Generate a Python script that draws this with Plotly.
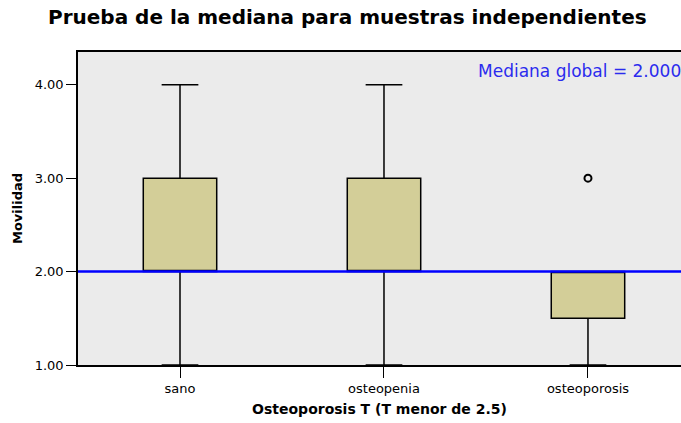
import plotly.graph_objects as go

# datos
grupos = ["sano", "osteopenia", "osteoporosis"]
q1 = [2.0, 2.0, 1.5]
mediana = [2.0, 2.0, 2.0]
q3 = [3.0, 3.0, 2.0]
bigote_inf = [1.0, 1.0, 1.0]
bigote_sup = [4.0, 4.0, 2.0]
atipicos_x = ["osteoporosis"]
atipicos_y = [3.0]
mediana_global = 2.0
ticks_y = [1.0, 2.0, 3.0, 4.0]

fig = go.Figure()
fig.add_trace(go.Box(
    x=grupos, q1=q1, median=mediana, q3=q3,
    lowerfence=bigote_inf, upperfence=bigote_sup,
    fillcolor="#D3CE98", line=dict(color="black", width=1.5),
    width=0.36, whiskerwidth=0.5, boxpoints=False, showlegend=False,
))
fig.add_trace(go.Scatter(
    x=atipicos_x, y=atipicos_y, mode="markers", showlegend=False,
    marker=dict(symbol="circle-open", size=7, color="black", line=dict(width=2)),
))
fig.add_hline(y=mediana_global, line=dict(color="#0000FF", width=2.5))
fig.add_annotation(
    x=0.66, y=4.15, xref="paper", yref="y", xanchor="left", yanchor="middle",
    text="Mediana global = %.3f" % mediana_global, showarrow=False,
    font=dict(color="#2B2BEE", size=17),
)

fig.update_layout(
    width=681, height=423, margin=dict(l=78, r=0, t=52, b=58),
    paper_bgcolor="white", plot_bgcolor="#EBEBEB",
    font=dict(family="DejaVu Sans, Arial, sans-serif", color="black", size=13),
    title=dict(text="<b>Prueba de la mediana para muestras independientes</b>",
               x=0.51, xanchor="center", y=0.96, yanchor="middle",
               font=dict(size=20, color="black")),
)
fig.update_xaxes(
    type="category", range=[-0.5, 2.456], showgrid=False,
    showline=True, linecolor="black", linewidth=1.5, mirror=True,
    ticks="outside", ticklen=11, tickcolor="black", tickwidth=1.2,
    title=dict(text="<b>Osteoporosis T (T menor de 2.5)</b>", standoff=9,
               font=dict(size=14)),
)
fig.update_yaxes(
    range=[1.0, 4.35], tickvals=ticks_y, tickformat=".2f", showgrid=False,
    zeroline=False, showline=True, linecolor="black", linewidth=1.5, mirror=False,
    ticks="outside", ticklen=10, tickcolor="black", tickwidth=1.2,
    title=dict(text="<b>Movilidad</b>", standoff=9, font=dict(size=13)),
)

fig.write_html("out.html", config={"displayModeBar": False},
               post_script="document.body.style.margin='0';")
